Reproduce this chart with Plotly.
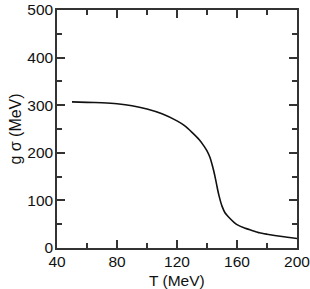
import plotly.graph_objects as go

T = [50, 60, 70, 80, 90, 100, 110, 120, 125, 130, 135, 138, 140, 142, 144, 145, 146, 147, 148, 149, 150, 152, 155, 158, 160, 165, 170, 175, 180, 190, 200]
g_sigma = [307, 306, 305, 303, 299, 292, 282, 267, 257, 243, 227, 214, 204, 190, 168, 155, 140, 124, 110, 98, 88, 74, 63, 54, 49, 42, 37, 32, 29, 24, 20]

FONT = "Liberation Sans, Arial, sans-serif"

fig = go.Figure()
fig.add_trace(go.Scatter(x=T, y=g_sigma, mode="lines",
                         line=dict(color="#111111", width=1.6, shape="spline", smoothing=0.6),
                         showlegend=False, hoverinfo="skip"))

axis_common = dict(
    showline=True, linecolor="#333333", linewidth=1.5, mirror="allticks",
    ticks="inside", ticklen=8, tickwidth=1.5, tickcolor="#333333",
    showgrid=False, zeroline=False, automargin=False,
    ticklabeloverflow="allow",
    tickfont=dict(family=FONT, size=15.5, color="#111111"),
)

fig.update_xaxes(range=[40, 200], dtick=40, tick0=40, ticklabelstandoff=-1,
                 minor=dict(ticks="inside", ticklen=5, dtick=20, tick0=40, tickwidth=1.5, tickcolor="#333333", showgrid=False),
                 **axis_common)
fig.update_yaxes(range=[0, 500], dtick=100, tick0=0, ticklabelstandoff=-1,
                 minor=dict(ticks="inside", ticklen=5, dtick=50, tick0=0, tickwidth=1.5, tickcolor="#333333", showgrid=False),
                 title=dict(text="g σ (MeV)", font=dict(family=FONT, size=16, color="#111111"), standoff=2),
                 **axis_common)

fig.add_annotation(text="T (MeV)", xref="paper", yref="paper", x=0.5, y=-0.135,
                   xanchor="center", yanchor="middle", showarrow=False,
                   font=dict(family=FONT, size=15.5, color="#111111"))

fig.update_layout(
    width=310, height=289,
    margin=dict(l=57, r=13, t=10, b=41),
    paper_bgcolor="white", plot_bgcolor="white",
)

fig.write_html("out.html", config={"displayModeBar": False},
               post_script="document.body.style.margin='0';")
